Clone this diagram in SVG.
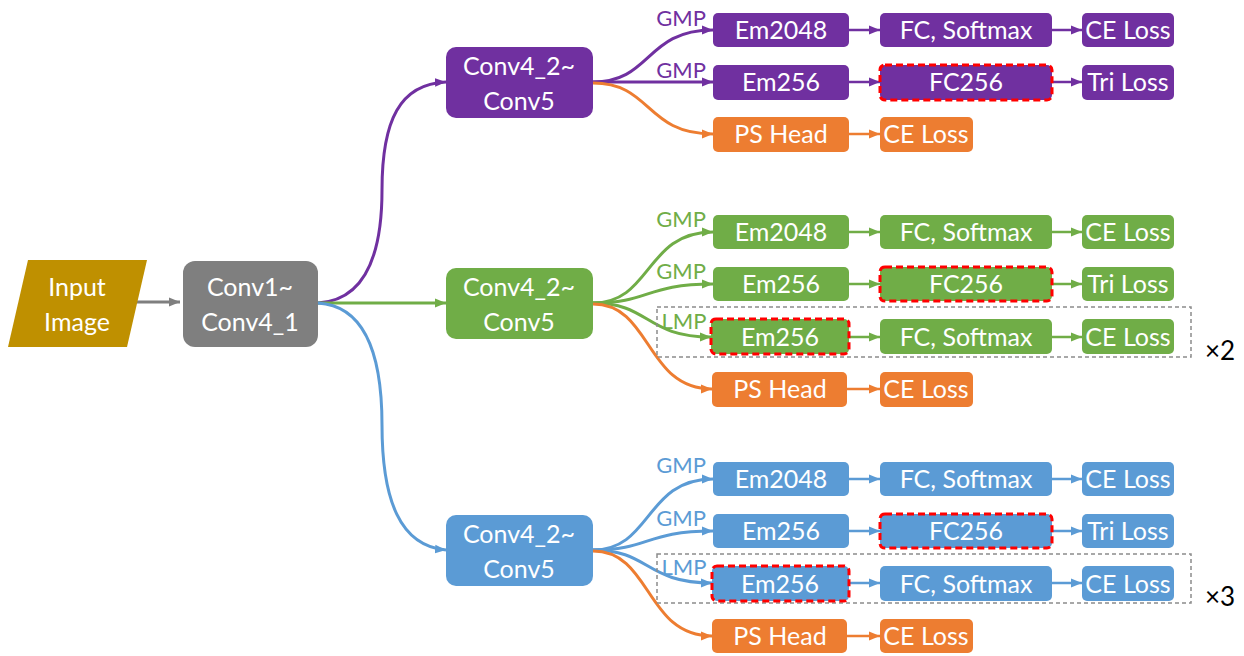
<svg xmlns="http://www.w3.org/2000/svg" width="1244" height="656" viewBox="0 0 1244 656">
<style>
text{font-family:Lato,"Liberation Sans",sans-serif;}
.t{fill:#fff;font-size:25px;text-anchor:middle;}
.lbl{font-size:22px;text-anchor:middle;}
.pu{fill:#7030A0;}
.gr{fill:#70AD47;}
.bl{fill:#5B9BD5;}
.or{fill:#ED7D31;}
.hl{stroke:#FF0000;stroke-width:3;stroke-dasharray:7,4;}
.c{fill:none;stroke-width:3;}
.a{fill:none;stroke-width:2.5;}
.sp{stroke:#7030A0;}
.sg{stroke:#70AD47;}
.sb{stroke:#5B9BD5;}
.so{stroke:#ED7D31;}
.sk{stroke:#7F7F7F;}
.rep{fill:none;stroke:#8C8C8C;stroke-width:1.5;stroke-dasharray:4,3;}
.x{font-size:26px;text-anchor:middle;fill:#000;}
</style>
<defs>
<marker id="mp" viewBox="0 0 10 10" refX="10" refY="5" markerWidth="11" markerHeight="11" markerUnits="userSpaceOnUse" orient="auto"><path d="M0,1 L10,5 L0,9 z" fill="#7030A0"/></marker>
<marker id="mg" viewBox="0 0 10 10" refX="10" refY="5" markerWidth="11" markerHeight="11" markerUnits="userSpaceOnUse" orient="auto"><path d="M0,1 L10,5 L0,9 z" fill="#70AD47"/></marker>
<marker id="mb" viewBox="0 0 10 10" refX="10" refY="5" markerWidth="11" markerHeight="11" markerUnits="userSpaceOnUse" orient="auto"><path d="M0,1 L10,5 L0,9 z" fill="#5B9BD5"/></marker>
<marker id="mo" viewBox="0 0 10 10" refX="10" refY="5" markerWidth="11" markerHeight="11" markerUnits="userSpaceOnUse" orient="auto"><path d="M0,1 L10,5 L0,9 z" fill="#ED7D31"/></marker>
<marker id="mk" viewBox="0 0 10 10" refX="10" refY="5" markerWidth="11" markerHeight="11" markerUnits="userSpaceOnUse" orient="auto"><path d="M0,1 L10,5 L0,9 z" fill="#7F7F7F"/></marker>
</defs>

<g id="connectors">
  <path class="c sk" d="M137,302 L180,302" marker-end="url(#mk)"/>
  <path class="c sp" d="M318,303 C368,300 382,250 382,190 C382,120 400,84 446,82" marker-end="url(#mp)"/>
  <path class="c sg" d="M318,303 L446,303" marker-end="url(#mg)"/>
  <path class="c sb" d="M318,303 C368,306 382,360 382,425 C382,500 400,546 446,550" marker-end="url(#mb)"/>

  <!-- purple branches -->
  <path class="c sp" d="M593,82 C652,82 645,30 713,30" marker-end="url(#mp)"/>
  <path class="c sp" d="M593,82 L713,82" marker-end="url(#mp)"/>
  <path class="c so" d="M593,83 C652,83 645,134 713,134" marker-end="url(#mo)"/>
  <path class="a sp" d="M849,30 L880,30" marker-end="url(#mp)"/>
  <path class="a sp" d="M1052,30 L1082,30" marker-end="url(#mp)"/>
  <path class="a sp" d="M849,82 L880,82" marker-end="url(#mp)"/>
  <path class="a sp" d="M1052,82 L1082,82" marker-end="url(#mp)"/>
  <path class="a so" d="M849,134 L880,134" marker-end="url(#mo)"/>

  <!-- green branches -->
  <path class="c sg" d="M593,303 C652,303 645,232 713,232" marker-end="url(#mg)"/>
  <path class="c sg" d="M593,303 C650,303 645,284 713,284" marker-end="url(#mg)"/>
  <path class="c sg" d="M593,303 C650,303 645,337 711,337" marker-end="url(#mg)"/>
  <path class="c so" d="M593,304 C652,304 645,389 712,389" marker-end="url(#mo)"/>
  <path class="a sg" d="M849,232 L880,232" marker-end="url(#mg)"/>
  <path class="a sg" d="M1052,232 L1082,232" marker-end="url(#mg)"/>
  <path class="a sg" d="M849,284 L880,284" marker-end="url(#mg)"/>
  <path class="a sg" d="M1052,284 L1082,284" marker-end="url(#mg)"/>
  <path class="a sg" d="M849,337 L880,337" marker-end="url(#mg)"/>
  <path class="a sg" d="M1052,337 L1082,337" marker-end="url(#mg)"/>
  <path class="a so" d="M847,389 L880,389" marker-end="url(#mo)"/>

  <!-- blue branches -->
  <path class="c sb" d="M593,550 C652,550 645,479 713,479" marker-end="url(#mb)"/>
  <path class="c sb" d="M593,550 C650,550 645,531 713,531" marker-end="url(#mb)"/>
  <path class="c sb" d="M593,550 C650,550 645,583 712,583" marker-end="url(#mb)"/>
  <path class="c so" d="M593,551 C652,551 645,636 712,636" marker-end="url(#mo)"/>
  <path class="a sb" d="M849,479 L880,479" marker-end="url(#mb)"/>
  <path class="a sb" d="M1052,479 L1082,479" marker-end="url(#mb)"/>
  <path class="a sb" d="M849,531 L880,531" marker-end="url(#mb)"/>
  <path class="a sb" d="M1052,531 L1082,531" marker-end="url(#mb)"/>
  <path class="a sb" d="M849,583 L880,583" marker-end="url(#mb)"/>
  <path class="a sb" d="M1052,583 L1082,583" marker-end="url(#mb)"/>
  <path class="a so" d="M847,636 L880,636" marker-end="url(#mo)"/>
</g>

<g id="labels">
  <text class="lbl" x="681" y="26" fill="#7030A0">GMP</text>
  <text class="lbl" x="681" y="78" fill="#7030A0">GMP</text>
  <text class="lbl" x="681" y="227" fill="#70AD47">GMP</text>
  <text class="lbl" x="681" y="279" fill="#70AD47">GMP</text>
  <text class="lbl" x="684" y="329" fill="#70AD47">LMP</text>
  <text class="lbl" x="681" y="473" fill="#5B9BD5">GMP</text>
  <text class="lbl" x="681" y="526" fill="#5B9BD5">GMP</text>
  <text class="lbl" x="684" y="575" fill="#5B9BD5">LMP</text>
</g>

<g id="input">
  <path d="M28,260 L147,260 L127,347 L8,347 Z" fill="#BF9000"/>
  <text class="t" x="77" y="296">Input</text>
  <text class="t" x="77" y="331">Image</text>
</g>
<g id="conv1">
  <rect x="183" y="261" width="135" height="86" rx="12" fill="#7F7F7F"/>
  <text class="t" x="250" y="296">Conv1~</text>
  <text class="t" x="250" y="331">Conv4_1</text>
</g>

<g id="conv_p">
  <rect class="pu" x="446" y="47" width="147" height="71" rx="10"/>
  <text class="t" x="519" y="75">Conv4_2~</text>
  <text class="t" x="519" y="110">Conv5</text>
</g>
<g id="conv_g">
  <rect class="gr" x="446" y="268" width="147" height="71" rx="10"/>
  <text class="t" x="519" y="296">Conv4_2~</text>
  <text class="t" x="519" y="331">Conv5</text>
</g>
<g id="conv_b">
  <rect class="bl" x="446" y="515" width="147" height="71" rx="10"/>
  <text class="t" x="519" y="543">Conv4_2~</text>
  <text class="t" x="519" y="578">Conv5</text>
</g>

<!-- purple rows -->
<g id="p_em2048"><rect class="pu" x="713" y="13" width="136" height="34" rx="5"/><text class="t" x="781" y="39">Em2048</text></g>
<g id="p_fcsm"><rect class="pu" x="880" y="13" width="172" height="34" rx="5"/><text class="t" x="966" y="39">FC, Softmax</text></g>
<g id="p_ce1"><rect class="pu" x="1082" y="13" width="92" height="34" rx="5"/><text class="t" x="1128" y="39">CE Loss</text></g>
<g id="p_em256"><rect class="pu" x="713" y="65" width="136" height="35" rx="5"/><text class="t" x="781" y="91">Em256</text></g>
<g id="p_fc256"><rect class="pu hl" x="880" y="65" width="172" height="35" rx="5"/><text class="t" x="966" y="91">FC256</text></g>
<g id="p_tri"><rect class="pu" x="1082" y="65" width="92" height="35" rx="5"/><text class="t" x="1128" y="91">Tri Loss</text></g>
<g id="p_ps"><rect class="or" x="713" y="117" width="136" height="35" rx="5"/><text class="t" x="781" y="143">PS Head</text></g>
<g id="p_psce"><rect class="or" x="880" y="117" width="93" height="35" rx="5"/><text class="t" x="926" y="143">CE Loss</text></g>

<!-- green rows -->
<g id="g_em2048"><rect class="gr" x="713" y="215" width="136" height="34" rx="5"/><text class="t" x="781" y="241">Em2048</text></g>
<g id="g_fcsm"><rect class="gr" x="880" y="215" width="172" height="34" rx="5"/><text class="t" x="966" y="241">FC, Softmax</text></g>
<g id="g_ce1"><rect class="gr" x="1082" y="215" width="92" height="34" rx="5"/><text class="t" x="1128" y="241">CE Loss</text></g>
<g id="g_em256"><rect class="gr" x="713" y="267" width="136" height="34" rx="5"/><text class="t" x="781" y="293">Em256</text></g>
<g id="g_fc256"><rect class="gr hl" x="880" y="267" width="172" height="34" rx="5"/><text class="t" x="966" y="293">FC256</text></g>
<g id="g_tri"><rect class="gr" x="1082" y="267" width="92" height="34" rx="5"/><text class="t" x="1128" y="293">Tri Loss</text></g>
<g id="g_rep"><rect class="rep" x="657" y="307" width="534" height="50"/><text class="x" x="1220" y="360">×2</text></g>
<g id="g_lem"><rect class="gr hl" x="711" y="319" width="138" height="35" rx="5"/><text class="t" x="780" y="346">Em256</text></g>
<g id="g_fcsm2"><rect class="gr" x="880" y="319" width="172" height="35" rx="5"/><text class="t" x="966" y="346">FC, Softmax</text></g>
<g id="g_ce2"><rect class="gr" x="1082" y="319" width="92" height="35" rx="5"/><text class="t" x="1128" y="346">CE Loss</text></g>
<g id="g_ps"><rect class="or" x="712" y="372" width="135" height="35" rx="5"/><text class="t" x="780" y="398">PS Head</text></g>
<g id="g_psce"><rect class="or" x="880" y="372" width="93" height="35" rx="5"/><text class="t" x="926" y="398">CE Loss</text></g>

<!-- blue rows -->
<g id="b_em2048"><rect class="bl" x="713" y="462" width="136" height="34" rx="5"/><text class="t" x="781" y="488">Em2048</text></g>
<g id="b_fcsm"><rect class="bl" x="880" y="462" width="172" height="34" rx="5"/><text class="t" x="966" y="488">FC, Softmax</text></g>
<g id="b_ce1"><rect class="bl" x="1082" y="462" width="92" height="34" rx="5"/><text class="t" x="1128" y="488">CE Loss</text></g>
<g id="b_em256"><rect class="bl" x="713" y="514" width="136" height="34" rx="5"/><text class="t" x="781" y="540">Em256</text></g>
<g id="b_fc256"><rect class="bl hl" x="880" y="514" width="172" height="34" rx="5"/><text class="t" x="966" y="540">FC256</text></g>
<g id="b_tri"><rect class="bl" x="1082" y="514" width="92" height="34" rx="5"/><text class="t" x="1128" y="540">Tri Loss</text></g>
<g id="b_rep"><rect class="rep" x="657" y="554" width="534" height="49"/><text class="x" x="1220" y="606">×3</text></g>
<g id="b_lem"><rect class="bl hl" x="712" y="566" width="137" height="35" rx="5"/><text class="t" x="780" y="593">Em256</text></g>
<g id="b_fcsm2"><rect class="bl" x="880" y="566" width="172" height="35" rx="5"/><text class="t" x="966" y="593">FC, Softmax</text></g>
<g id="b_ce2"><rect class="bl" x="1082" y="566" width="92" height="35" rx="5"/><text class="t" x="1128" y="593">CE Loss</text></g>
<g id="b_ps"><rect class="or" x="712" y="619" width="135" height="34" rx="5"/><text class="t" x="780" y="645">PS Head</text></g>
<g id="b_psce"><rect class="or" x="880" y="619" width="93" height="34" rx="5"/><text class="t" x="926" y="645">CE Loss</text></g>
</svg>
